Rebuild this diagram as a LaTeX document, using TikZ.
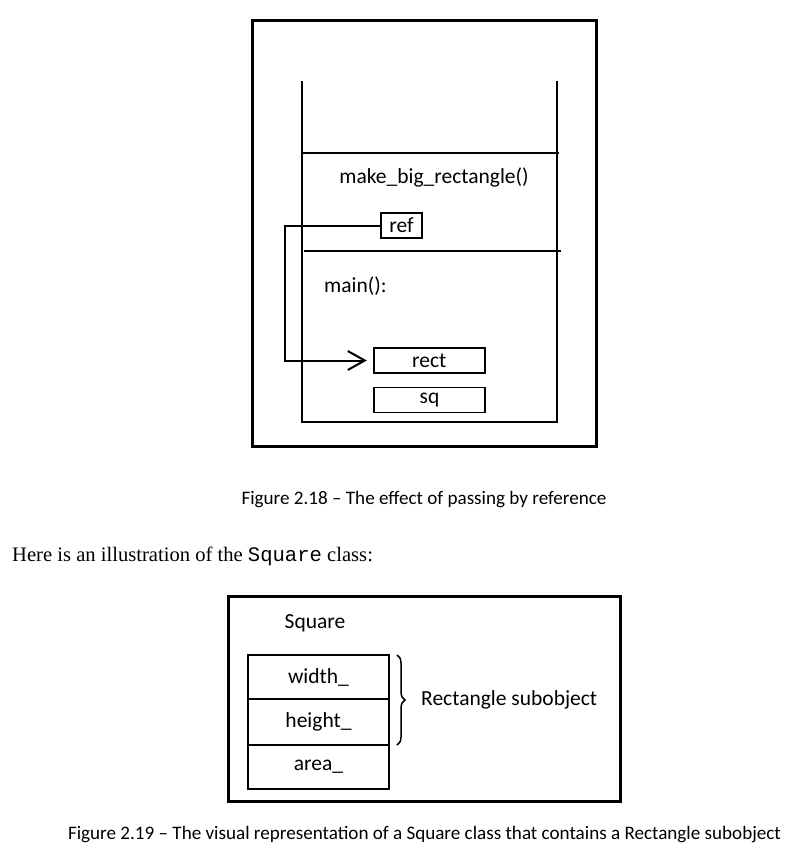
\documentclass[tikz,border=0pt]{standalone}
\usepackage{fontspec}
\setmainfont{Carlito}
\newfontfamily\bodyserif{Liberation Serif}
\newfontfamily\bodymono{Liberation Mono}
\usetikzlibrary{decorations.pathreplacing,arrows.meta,calc}
\begin{document}
\begin{tikzpicture}[x=1pt,y=-1pt,
  frame/.style={draw=black,line width=3pt},
  ln/.style={draw=black,line width=2pt},
  cell/.style={draw=black,line width=1.8pt,minimum height=25pt,inner sep=0pt,font=\fontsize{21.5}{24}\selectfont},
  lbl/.style={inner sep=0pt,font=\fontsize{21.5}{24}\selectfont},
  captext/.style={inner sep=0pt,font=\fontsize{19.1}{22}\selectfont},
  row/.style={draw=black,line width=1.8pt,minimum width=141.6pt,inner sep=0pt,font=\fontsize{21.5}{24}\selectfont}]
\useasboundingbox (0,0) rectangle (807,860);
% ---------- Figure 2.18 ----------
\draw[frame] (252,20) rectangle (596,446);
\draw[ln] (302,81) -- (302,422) -- (557,422) -- (557,81);
\draw[ln] (302,153) -- (559,153);
\draw[ln] (304,251) -- (561,251);
\node[lbl] (mbr) at (434,177) {make\_big\_rectangle()};
\node[lbl,anchor=west] (main) at (324,286) {main():};
\node[cell,minimum width=41pt] (ref) at (401.5,225.5) {ref};
\node[cell,minimum width=111pt] (rect) at (429.2,360.5) {rect};
\node[cell,minimum width=111pt] (sq) at (429.5,400) {sq};
\coordinate (tip) at ($(rect.west)+(-6,0)$);
\draw[ln,-{Straight Barb[length=17pt,width=19pt,line width=2pt]}] (ref.west) -- (285,225.5) |- (tip);
% ---------- caption / body ----------
\node[captext] (cap1) at (424,500) {Figure 2.18 – The effect of passing by reference};
\node[anchor=west,inner sep=0pt,font=\fontsize{20.6}{24}\selectfont] (body) at (12,556) {\bodyserif Here is an illustration of the {\bodymono Square} class:};
% ---------- Figure 2.19 ----------
\draw[frame] (228,596) rectangle (620,801);
\node[lbl] (sqt) at (315,623) {Square};
\node[row,minimum height=44pt] (w) at (318.5,677) {width\_};
\node[row,minimum height=46pt] (h) at (318.5,722) {height\_};
\node[row,minimum height=44pt] (a) at (318.5,767) {area\_};
\draw[line width=1.5pt,decorate,decoration={brace,amplitude=8pt}] (397,655) -- (397,745);
\node[lbl,anchor=west] (rs) at (421,700) {Rectangle subobject};
\node[captext] (cap2) at (424.5,834) {Figure 2.19 – The visual representation of a Square class that contains a Rectangle subobject};
\end{tikzpicture}
\end{document}
